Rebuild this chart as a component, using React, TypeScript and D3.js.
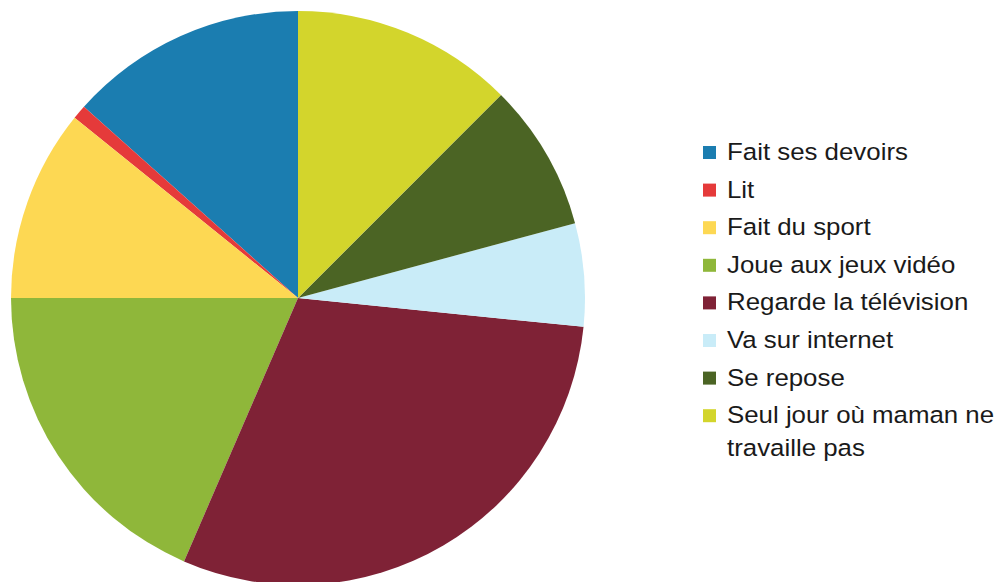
import { useEffect, useRef } from "react";
import * as d3 from "d3";

const categories = [
  "Fait ses devoirs",
  "Lit",
  "Fait du sport",
  "Joue aux jeux vidéo",
  "Regarde la télévision",
  "Va sur internet",
  "Se repose",
  "Seul jour où maman ne travaille pas",
];
const values = [13.4, 0.8, 10.8, 18.5, 29.9, 5.8, 8.3, 12.5];
const colors = [
  "#1b7db0",
  "#e53a3a",
  "#fdd853",
  "#8fb73a",
  "#7f2236",
  "#c9ecf8",
  "#4b6424",
  "#d3d52c",
];

// coupe un libellé long en lignes de ~21 caractères
function wrap(label: string, max: number) {
  const lines: string[] = [];
  let cur = "";
  label.split(" ").forEach((w) => {
    if (cur && (cur + " " + w).length > max) {
      lines.push(cur);
      cur = w;
    } else {
      cur = cur ? cur + " " + w : w;
    }
  });
  if (cur) lines.push(cur);
  return lines;
}

const App = () => {
  const svgRef = useRef<SVGSVGElement>(null);
  const width = 1000;
  const height = 582;

  useEffect(() => {
    if (!svgRef.current) return;
    const svg = d3.select(svgRef.current);
    svg.selectAll("*").remove();

    const cx = 298;
    const cy = 298;
    const r = 287;

    const data = categories.map((c, i) => ({ label: c, value: values[i], color: colors[i] }));

    // départ à midi, sens anti-horaire
    const pie = d3
      .pie<{ label: string; value: number; color: string }>()
      .sort(null)
      .value((d) => d.value)
      .startAngle(0)
      .endAngle(-2 * Math.PI);

    const arc = d3
      .arc<d3.PieArcDatum<{ label: string; value: number; color: string }>>()
      .innerRadius(0)
      .outerRadius(r);

    svg
      .append("g")
      .attr("transform", `translate(${cx},${cy})`)
      .selectAll("path")
      .data(pie(data))
      .join("path")
      .attr("d", arc)
      .attr("fill", (d) => d.data.color);

    // légende
    const legend = svg.append("g").attr("transform", "translate(703,0)");
    let y = 160;
    data.forEach((d) => {
      const lines = wrap(d.label, 21);
      legend
        .append("rect")
        .attr("x", 0)
        .attr("y", y - 14)
        .attr("width", 13)
        .attr("height", 13)
        .attr("fill", d.color);
      lines.forEach((line, j) => {
        legend
          .append("text")
          .attr("transform", `translate(24,${y + j * 33}) scale(1.1,1)`)
          .attr("font-family", "Liberation Sans, Arial, sans-serif")
          .attr("font-size", 23.5)
          .attr("fill", "#1a1a1a")
          .text(line);
      });
      y += 37.6 + (lines.length - 1) * 33;
    });
  }, []);

  return (
    <div style={{ position: "absolute", left: 0, top: 0, background: "#fff" }}>
      <svg ref={svgRef} width={width} height={height}></svg>
    </div>
  );
};

export default App;
